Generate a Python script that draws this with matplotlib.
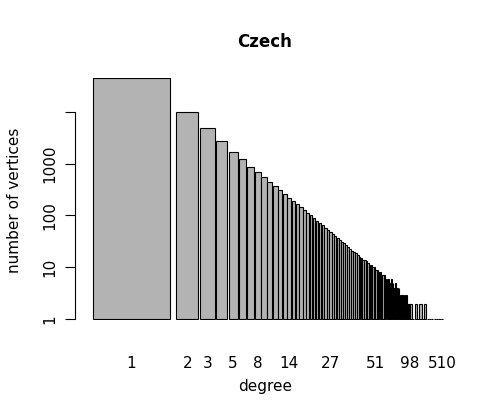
import matplotlib.pyplot as plt
import numpy as np

# degree distribution (approximate)
head_degrees = list(range(1, 61))
head_counts = [44000, 10000, 4800, 2700, 1700, 1200, 870, 700, 560, 450,
               370, 310, 260, 220, 190, 165, 145, 128, 112, 100,
               90, 80, 72, 65, 58, 53, 48, 44, 40, 37,
               34, 31, 29, 27, 25, 23, 21, 20, 19, 17,
               16, 15, 14, 14, 13, 12, 11, 11, 10, 10,
               9, 9, 8, 8, 7, 7, 7, 6, 6, 6]
tail_degrees = [61, 62, 63, 64, 65, 66, 67, 68, 70, 71, 72, 73, 75, 76, 78, 80,
                82, 84, 86, 88, 90, 92, 95, 98, 101, 105, 110, 115, 120, 128,
                135, 145, 160, 180, 210, 260, 330, 510]
tail_counts = [5, 5, 6, 4, 5, 4, 4, 5, 3, 4, 3, 4, 3, 2, 3, 3,
               2, 3, 2, 2, 3, 2, 2, 2, 2, 1, 2, 1, 2, 1,
               2, 1, 1, 1, 1, 1, 1, 1]
tick_degrees = [1, 2, 3, 5, 8, 14, 27, 51, 98, 510]

degrees = head_degrees + tail_degrees
counts = head_counts + tail_counts

# bar layout (style only): widths shrink with rank, sparse tail gets wider bars
widths, lefts = [], []
x = 0.0
for i, d in enumerate(degrees):
    if i < 60:
        w = 87 / (1 + 2.5 * i ** 0.8)
    elif d <= 98:
        w = 0.85
    else:
        w = 2.4
    if i > 0:
        x += max(0.12 * (w + widths[-1]) / 2, 0.12)
    lefts.append(x)
    widths.append(w)
    x += w
total = x

fig = plt.figure(figsize=(4.98, 4.18), dpi=100)
W, H = 498, 418
x0, x1 = 93, 443
scale = (x1 - x0) / total
ax = fig.add_axes([75 / W, 1 - 320 / H, (445 - 75) / W, (320 - 78) / H])
ax.bar(lefts, [c - 1 for c in counts], width=widths, bottom=1, align="edge",
       color="#b3b3b3", edgecolor="black", linewidth=0.8)
ax.set_yscale("log")
ax.set_ylim(0.97, 44500)
ax.set_xlim(-(x0 - 75) / scale, total + 2 / scale)

for s in ["top", "right", "bottom"]:
    ax.spines[s].set_visible(False)
ax.spines["left"].set_bounds(1, 10000)
ax.set_yticks([1, 10, 100, 1000, 10000])
ax.set_yticklabels(["1", "10", "100", "1000", ""], rotation=90, va="center")
ax.minorticks_off()
ax.tick_params(axis="y", length=7, labelsize=11, pad=6)

centers = {d: l + w / 2 for d, l, w in zip(degrees, lefts, widths)}
ax.set_xticks([centers[d] for d in tick_degrees])
ax.set_xticklabels([str(d) for d in tick_degrees])
ax.tick_params(axis="x", length=0, labelsize=11, pad=26)

fig.text(265 / W, 1 - 42 / H, "Czech", ha="center", va="center",
         fontsize=12, fontweight="bold")
fig.text(265 / W, 1 - 387 / H, "degree", ha="center", va="center", fontsize=11)
fig.text(15 / W, 1 - 200 / H, "number of vertices", ha="center", va="center",
         rotation=90, fontsize=11)

plt.savefig("out.png", dpi=100)
